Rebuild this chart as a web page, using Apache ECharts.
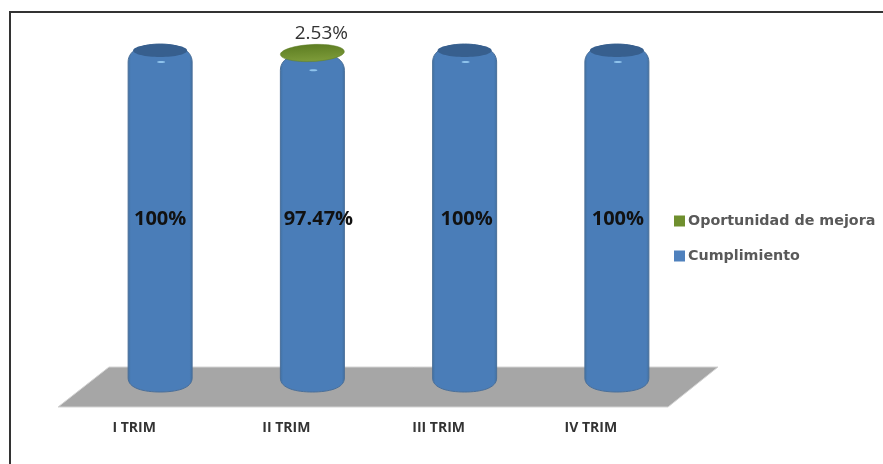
<!DOCTYPE html>
<html><head><meta charset="utf-8">
<style>html,body{margin:0;padding:0;background:#fff}#c{width:883px;height:464px}
#fl{position:absolute;left:9px;top:11px;width:2px;height:453px;background:#333;pointer-events:none}
#ft{position:absolute;left:9px;top:11px;width:874px;height:2px;background:#333;pointer-events:none}
body{overflow:hidden}</style>
<script src="https://cdn.jsdelivr.net/npm/echarts@6/dist/echarts.min.js"></script>
</head><body><div id="c"></div><div id="fl"></div><div id="ft"></div>
<script>
var categories = ['I TRIM', 'II TRIM', 'III TRIM', 'IV TRIM'];
var cumplimiento = [100, 97.47, 100, 100];
var oportunidad = [0, 2.53, 0, 0];
var cumplimientoLabels = ['100%', '97.47%', '100%', '100%'];
var oportunidadLabels = ['', '2.53%', '', ''];

var chart = echarts.init(document.getElementById('c'), null, {renderer: 'canvas'});
var R = 32, RB = 14, RT = 8;

function floorItem(params, api) {
  var c = params.coordSys;
  var bottom = c.y + c.height;
  return {type: 'polygon', silent: true,
    shape: {points: [[c.x - 26, bottom + 29], [c.x + c.width - 25, bottom + 29], [c.x + c.width + 25, bottom - 11], [c.x + 25, bottom - 11]]},
    style: {fill: '#a6a6a6', stroke: '#d4d4d4', lineWidth: 1}};
}

function cylinderItem(params, api) {
  var i = params.dataIndex;
  var top = api.coord([api.value(0), api.value(1)]);
  var base = api.coord([api.value(0), 0]);
  var mid = api.coord([api.value(0), 50]);
  var x = top[0], y = top[1], b = base[1];
  var d = 'M' + (x - R) + ' ' + (y + RT + 2) +
    ' C' + (x - R) + ' ' + (y - 3) + ' ' + (x - 16) + ' ' + (y - RT) + ' ' + x + ' ' + (y - RT) +
    ' C' + (x + 16) + ' ' + (y - RT) + ' ' + (x + R) + ' ' + (y - 3) + ' ' + (x + R) + ' ' + (y + RT + 2) +
    ' L' + (x + R) + ' ' + b +
    ' C' + (x + R) + ' ' + (b + RB * 0.75) + ' ' + (x + 16) + ' ' + (b + RB) + ' ' + x + ' ' + (b + RB) +
    ' C' + (x - 16) + ' ' + (b + RB) + ' ' + (x - R) + ' ' + (b + RB * 0.75) + ' ' + (x - R) + ' ' + b + ' Z';
  var body = new echarts.graphic.LinearGradient(0, 0, 1, 0, [
    {offset: 0, color: '#41709f'}, {offset: 0.05, color: '#4a7db8'},
    {offset: 0.95, color: '#4a7db8'}, {offset: 1, color: '#41709f'}]);
  var kids = [
    {type: 'path', shape: {pathData: d, x: x - R, y: y - RT, width: 2 * R, height: b + RB - y + RT, layout: 'cover'},
     style: {fill: body, stroke: '#4a6f99', lineWidth: 1}}
  ];
  if (!oportunidad[i]) {
    kids.push({type: 'ellipse', shape: {cx: x, cy: y - 1.5, rx: R - 5, ry: 6.5}, style: {fill: '#375f8e'}});
  }
  kids.push({type: 'ellipse', shape: {cx: x + 1, cy: y + 10, rx: 4, ry: 1}, style: {fill: '#8fc3ec'}});
  kids.push({type: 'text', style: {text: cumplimientoLabels[i], x: x + (i === 1 ? 6 : 0) + (i === 2 ? 2 : 0) + (i === 3 ? 1 : 0), y: mid[1] + 4,
      align: 'center', verticalAlign: 'middle', fill: '#111', font: 'bold 20px "Open Sans"'}});
  return {type: 'group', children: kids};
}

function diskItem(params, api) {
  var i = params.dataIndex;
  if (!api.value(1)) return null;
  var p = api.coord([api.value(0), cumplimiento[i] + api.value(1)]);
  return {type: 'group', children: [
    {type: 'ellipse', rotation: 0.05, originX: p[0], originY: p[1] + 1,
     shape: {cx: p[0], cy: p[1] + 1, rx: 32, ry: 8.5},
     style: {fill: new echarts.graphic.LinearGradient(0, 0, 0, 1, [{offset: 0, color: '#5d7d22'}, {offset: 1, color: '#7e9c3a'}]),
       stroke: '#5f7d28', lineWidth: 0.5}},
    {type: 'text', style: {text: oportunidadLabels[i], x: p[0] + 9, y: p[1] - 18, align: 'center', verticalAlign: 'middle',
      fill: '#333', font: '19px "Open Sans"'}}
  ]};
}

chart.setOption({
  animation: false,
  backgroundColor: '#fff',
  grid: {left: 84, top: 52, width: 609, height: 326},
  legend: {
    orient: 'vertical', left: 669, top: 209, itemWidth: 11, itemHeight: 11, itemGap: 21,
    icon: 'rect', selectedMode: false,
    data: ['Oportunidad de mejora', 'Cumplimiento'],
    textStyle: {color: '#595959', fontFamily: 'DejaVu Sans', fontWeight: 'bold', fontSize: 14.3, padding: [0, 0, 0, -2]}
  },
  xAxis: {type: 'category', data: categories, axisLine: {show: false}, axisTick: {show: false},
    axisLabel: {margin: 43, color: '#333', fontFamily: 'Open Sans', fontWeight: 'bold', fontSize: 14, padding: [0, 52, 0, 0], interval: 0}},
  yAxis: {type: 'value', min: 0, max: 100, show: false, splitLine: {show: false}},
  series: [
    {name: 'floor', type: 'custom', renderItem: floorItem, data: [[0, 0]], z: 1, silent: true, clip: false},
    {name: 'Cumplimiento', type: 'custom', renderItem: cylinderItem, z: 2, clip: false,
     itemStyle: {color: '#4f81bd'}, encode: {x: 0, y: 1},
     data: categories.map(function (c, i) { return [i, cumplimiento[i]]; })},
    {name: 'Oportunidad de mejora', type: 'custom', renderItem: diskItem, z: 3, clip: false,
     itemStyle: {color: '#6f8f2e'}, encode: {x: 0, y: 1},
     data: categories.map(function (c, i) { return [i, oportunidad[i]]; })}
  ]
});
</script></body></html>
